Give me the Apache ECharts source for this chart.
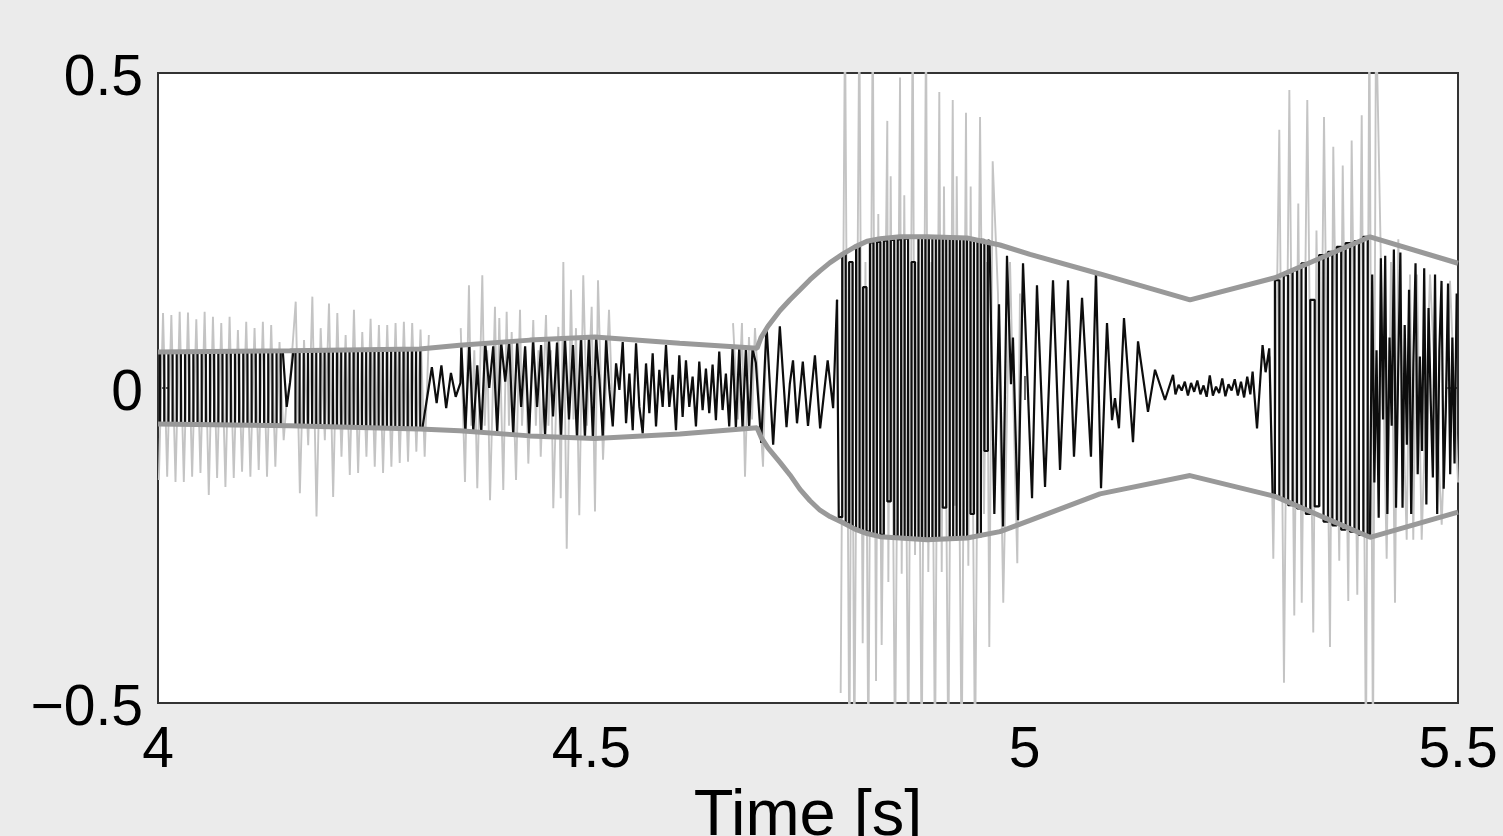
<!DOCTYPE html>
<html>
<head>
<meta charset="utf-8">
<script src="https://cdn.jsdelivr.net/npm/echarts@6/dist/echarts.min.js"></script>
<style>
html,body{margin:0;padding:0;background:#ebebeb;}
#chart{width:1503px;height:836px;}
</style>
</head>
<body>
<div id="chart"></div>
<script>
// ---------- tick labels ----------
const xTicks = [4, 4.5, 5, 5.5];
const yTicks = [-0.5, 0, 0.5];

// ---------- envelope (thick grey) ----------
const envTime  = [4.000, 4.152, 4.302, 4.348, 4.429, 4.504, 4.602, 4.6912, 4.6958, 4.7038, 4.7177, 4.7292, 4.7408, 4.7523, 4.7638, 4.7754, 4.7904, 4.8042, 4.8181, 4.8331, 4.8562, 4.8873, 4.9335, 4.9715, 5.0062, 5.0869, 5.1908, 5.2888, 5.3985, 5.5000];
const envUpper = [0.057, 0.059, 0.062, 0.068, 0.076, 0.081, 0.071, 0.063, 0.080, 0.098, 0.123, 0.140, 0.156, 0.172, 0.186, 0.199, 0.213, 0.224, 0.233, 0.237, 0.240, 0.240, 0.238, 0.227, 0.212, 0.181, 0.140, 0.175, 0.240, 0.198];
const envLower = [-0.057, -0.060, -0.065, -0.068, -0.076, -0.080, -0.073, -0.063, -0.078, -0.095, -0.118, -0.138, -0.161, -0.179, -0.194, -0.204, -0.214, -0.224, -0.231, -0.236, -0.238, -0.241, -0.238, -0.228, -0.210, -0.168, -0.139, -0.172, -0.237, -0.197];

// ---------- black signal: segments sampled on a regular step (start, step, values) ----------
const black1 = [0.057,-0.057,0.057,-0.057,0.057,-0.057,0.057,-0.058,0.057,-0.058,0.058,-0.058,0.058,-0.058,0.058,-0.058,0.058,-0.058,0.058,-0.059,0.058,-0.059,0.058,-0.059,0.058,-0.059,0.058,-0.059,0.059,-0.059,0.058];
const blackGlitch = [[4.1485,-0.030],[4.1523,0.008]];
const black2 = [0.059,-0.060,0.059,-0.060,0.060,-0.060,0.060,-0.061,0.060,-0.061,0.060,-0.061,0.060,-0.062,0.061,-0.062,0.061,-0.062,0.061,-0.063,0.061,-0.063,0.062,-0.063,0.062,-0.064,0.062,-0.064,0.062,-0.064,0.062,-0.064];
const black3 = [0.033,-0.024,0.036,-0.032,0.024,-0.014,0.008];
const black4 = [0.068,-0.069,0.069,-0.069,0.036,-0.070,0.071,0.000,0.066,-0.071,0.072,0.010,0.072,-0.073,0.073,-0.030,0.066,-0.074,0.074,-0.030,0.068,-0.076,0.076,-0.045,0.072,-0.077,0.078,-0.050,0.068,-0.078,0.079,-0.079,0.080,-0.080];
const black5 = [0.079,0.013,-0.077,0.076,-0.003,-0.061,0.039,-0.003,0.073,-0.056,
  0.023,-0.067,0.071,-0.030,-0.072,0.039,-0.040,0.055,-0.061,0.029,
  -0.030,0.068,-0.030,0.021,-0.067,0.052,-0.046,0.044,-0.030,0.018,
  -0.061,0.042,-0.035,0.031,-0.040,0.037,-0.051,0.058,-0.035,0.023,
  -0.061,0.063,-0.064,0.063,-0.064,0.062,-0.064,0.062,0.040];
const black6 = [[4.6960,-0.087],[4.7022,0.098],[4.7098,-0.090],[4.7175,0.098],[4.7252,-0.062],[4.7290,0.006],[4.7327,0.044],[4.7373,-0.056],[4.7440,0.042],[4.7500,-0.060],[4.7580,0.052],[4.7640,-0.064],[4.7727,0.044],[4.7790,-0.032]];
const black7 = [0.140,-0.205,0.213,-0.215,0.200,-0.222,0.225,-0.226,0.160,-0.228,0.231,-0.232,0.232,-0.233,0.234,-0.180,0.235,-0.236,0.236,-0.237,0.237,-0.238,0.200,-0.239,0.239,-0.240,0.240,-0.240,0.240,-0.241,0.240,-0.190,0.240,-0.240,0.239,-0.239,0.238,-0.238,0.237,-0.200,0.236,-0.236,0.235,-0.100,0.234];
const black8 = [[4.9650,-0.200],[4.9704,0.133],[4.9750,-0.220],[4.9796,0.210],[4.9842,0.006],[4.9865,0.080],[4.9923,-0.210],[4.9981,0.198],[5.0085,-0.175],[5.0142,0.163],[5.0235,-0.157],[5.0327,0.171],[5.0408,-0.130],[5.0500,0.171],[5.0569,-0.109],[5.0662,0.143],[5.0765,-0.109],[5.0823,0.184],[5.0881,-0.159],[5.0950,0.103],[5.1008,-0.051],[5.1042,-0.016],[5.1088,-0.064],[5.1146,0.111],[5.1250,-0.086],[5.1308,0.074],[5.1423,-0.038],[5.1504,0.029],[5.1619,-0.019],[5.1712,0.021]];
const black9 = [-0.010,0.005,-0.004,0.010,-0.012,0.008,-0.006,0.012,-0.010,0.004,-0.014,0.020,-0.012,0.002,-0.008,0.015,-0.013,0.006,-0.004,0.014,-0.012,0.010,-0.015,0.018,-0.010];
const black10 = [[5.2630,0.026],[5.2681,-0.064],[5.2745,0.068],[5.2780,0.025],[5.2822,0.063]];
const black11 = [-0.170,0.171,-0.175,0.179,-0.186,0.187,-0.191,0.198,-0.200,0.140,-0.188,0.211,-0.212,0.216,-0.218,0.224,-0.225,0.230,-0.228,0.233,-0.233,0.240,-0.233];
const black12 = [0.180,-0.150,0.060,-0.206,0.206,-0.050,0.210,-0.200,0.080,-0.060,0.220,-0.190,0.030,0.215,-0.190,0.100,-0.090,0.156,-0.200,0.040,0.198,-0.137,0.050,-0.100,0.190,-0.185,0.127,-0.020,-0.142,0.180,-0.200,0.060,0.170,-0.160,-0.030,0.166,-0.137,0.080,-0.120,0.150];

// ---------- light grey (unfiltered) signal ----------
const gray1a = [-0.146,0.119,-0.141,0.116,-0.149,0.121,-0.149,0.120,-0.141,0.109,-0.135,0.121,-0.170,0.113,-0.143,0.103,-0.157,0.113,-0.143,0.092,-0.133,0.105,-0.141,0.095,-0.130,0.105,-0.141,0.100,-0.125,0.073,-0.083];
const grayGlitch = [[4.1485,-0.020],[4.1523,0.010]];
const gray1b = [0.137,-0.167,0.076,-0.091,0.145,-0.204,0.095,-0.083,0.134,-0.173,0.119,-0.109,0.084,-0.138,0.124,-0.135,0.089,-0.109,0.110,-0.125,0.100,-0.135,0.100,-0.125,0.103,-0.119,0.105,-0.117,0.103,-0.101,0.093,-0.109,0.084];
const gray3 = [[4.3493,0.095],[4.3542,-0.149],[4.3588,0.163],[4.3615,-0.060],[4.3650,0.060],[4.3684,-0.159],[4.3742,0.179],[4.3770,-0.060],[4.3800,0.060],[4.3831,-0.178],[4.3888,0.129],[4.3912,-0.060],[4.3938,0.111],[4.3984,-0.162],[4.4023,0.121],[4.4050,-0.060],[4.4081,0.089],[4.4131,-0.146],[4.4177,0.124],[4.4200,-0.060],[4.4240,0.060],[4.4273,-0.120],[4.4330,0.108],[4.4360,-0.060],[4.4390,0.060],[4.4416,-0.109],[4.4477,0.116],[4.4505,-0.060],[4.4535,0.060],[4.4561,-0.191],[4.4619,0.097],[4.4647,-0.175],[4.4677,0.200],[4.4716,-0.255],[4.4765,0.156],[4.4794,-0.050],[4.4823,0.095],[4.4861,-0.202],[4.4907,0.179],[4.4950,-0.060],[4.5004,0.129],[4.5042,-0.196],[4.5077,0.171],[4.5135,-0.114],[4.5204,0.124],[4.5250,-0.060]];
const gray4 = [[4.6635,0.103],[4.6692,-0.050],[4.6738,0.103],[4.6773,-0.141],[4.6819,0.081],[4.6854,-0.050],[4.6888,0.095],[4.6981,-0.125],[4.7020,0.090]];
const gray5 = [[4.7877,-0.484],[4.7927,0.600],[4.7977,-0.600],[4.8008,0.200],[4.8034,-0.600],[4.8092,0.600],[4.8131,-0.405],[4.8163,0.200],[4.8196,-0.600],[4.8247,0.600],[4.8285,-0.465],[4.8311,0.276],[4.8350,-0.408],[4.8415,0.424],[4.8427,-0.308],[4.8454,0.336],[4.8504,-0.600],[4.8562,0.493],[4.8581,-0.295],[4.8611,0.306],[4.8657,-0.600],[4.8708,0.600],[4.8735,-0.265],[4.8769,0.200],[4.8812,-0.600],[4.8862,0.600],[4.8888,-0.292],[4.8925,0.200],[4.8965,-0.600],[4.9015,0.470],[4.9043,-0.292],[4.9069,0.320],[4.9119,-0.600],[4.9170,0.457],[4.9196,-0.187],[4.9216,0.336],[4.9273,-0.600],[4.9323,0.437],[4.9350,-0.282],[4.9377,0.320],[4.9427,-0.600],[4.9485,0.430],[4.9531,-0.200],[4.9565,0.200],[4.9592,-0.411],[4.9631,0.360],[4.9692,0.150],[4.9753,-0.341],[4.9831,0.200],[4.9915,-0.278],[4.9946,0.150]];
const gray6 = [[5.2830,0.050],[5.2869,-0.271],[5.2938,0.410],[5.2992,-0.468],[5.3054,0.473],[5.3111,-0.361],[5.3157,0.293],[5.3197,-0.341],[5.3261,0.457],[5.3330,-0.388],[5.3367,0.250],[5.3408,-0.188],[5.3454,0.430],[5.3523,-0.411],[5.3561,0.383],[5.3630,-0.274],[5.3670,0.353],[5.3734,-0.338],[5.3773,0.393],[5.3838,-0.328],[5.3889,0.433],[5.3938,-0.600],[5.3977,0.600],[5.4019,-0.600],[5.4054,0.600],[5.4177,-0.271],[5.4227,0.200],[5.4273,-0.341],[5.4311,0.236],[5.4408,-0.241],[5.4446,0.180],[5.4484,-0.241],[5.4527,0.180],[5.4581,-0.241],[5.4677,0.180],[5.4812,-0.217],[5.4908,0.170],[5.5000,-0.150]];

// ---------- assembly ----------
function onStep(t0, dt, vals){ return vals.map((v,i)=>[t0 + i*dt, v]); }

// clipped (square-topped) parts drawn as step lines, the rest as plain polylines
const blackParts = [
  {step:true,  data:onStep(4.000, 0.0048, black1)},
  {step:false, data:blackGlitch},
  {step:true,  data:onStep(4.1562, 0.0048, black2)},
  {step:false, data:[].concat(onStep(4.316, 0.0055, black3), onStep(4.350, 0.0046, black4), onStep(4.5055, 0.00384, black5), black6)},
  {step:true,  data:onStep(4.7835, 0.0040, black7)},
  {step:false, data:[].concat(black8, onStep(5.1740, 0.0036, black9), black10)},
  {step:true,  data:onStep(5.2862, 0.0051, black11)},
  {step:false, data:onStep(5.4010, 0.0025, black12)}
];
// join neighbouring parts so the trace is continuous
blackParts.forEach((p,i)=>{
  if(!p.step){
    const prev = blackParts[i-1], next = blackParts[i+1];
    const d = p.data.slice();
    if(prev) d.unshift(prev.data[prev.data.length-1]);
    if(next) d.push(next.data[0]);
    p.joined = d;
  } else p.joined = p.data;
});

const gray1 = [].concat(onStep(4.001, 0.0048, gray1a), grayGlitch, onStep(4.1589, 0.0048, gray1b));
const graySegments = [gray1, gray3, gray4, gray5, gray6];

const upperData = envTime.map((t,i)=>[t, envUpper[i]]);
const lowerData = envTime.map((t,i)=>[t, envLower[i]]);

const FONT = '"Liberation Sans", Arial, Helvetica, sans-serif';
const tickStyle = {show:true, inside:true, length:12, lineStyle:{color:'#333', width:1.5}};
const fmtY = v => '{v|' + (v < 0 ? '\u2212' + Math.abs(v) : String(v)) + '}';

const series = [];
graySegments.forEach(seg => series.push({
  type:'line', data:seg, symbol:'none', silent:true, z:1,
  lineStyle:{color:'#c4c4c4', width:1.9}, animation:false
}));
blackParts.forEach(p => series.push({
  type:'line', data:p.joined, symbol:'none', silent:true, z:2,
  step: p.step ? 'middle' : false,
  lineStyle:{color:'#0d0d0d', width:2.2}, animation:false
}));
series.push({type:'line', data:upperData, symbol:'none', silent:true, z:3,
  lineStyle:{color:'#999', width:5}, animation:false});
series.push({type:'line', data:lowerData, symbol:'none', silent:true, z:3,
  lineStyle:{color:'#999', width:5}, animation:false});

const chart = echarts.init(document.getElementById('chart'), null, {renderer:'canvas'});
chart.setOption({
  backgroundColor:'#ebebeb',
  animation:false,
  grid:{left:158, top:73, right:45, bottom:133, outerBoundsMode:'none', containLabel:false,
        show:true, backgroundColor:'#fff', borderColor:'#333', borderWidth:2},
  xAxis:[
    {type:'value', min:xTicks[0], max:xTicks[xTicks.length-1], interval:0.5, position:'bottom',
     axisLine:{show:false}, splitLine:{show:false}, axisTick:tickStyle,
     axisLabel:{color:'#000', fontSize:57, fontFamily:FONT, margin:20, formatter:v=>String(v)},
     name:'Time [s]', nameLocation:'middle', nameGap:76,
     nameTextStyle:{color:'#000', fontSize:65, fontFamily:FONT}},
    {type:'value', min:xTicks[0], max:xTicks[xTicks.length-1], interval:0.5, position:'top',
     axisLine:{show:false}, splitLine:{show:false}, axisTick:tickStyle, axisLabel:{show:false}}
  ],
  yAxis:[
    {type:'value', min:yTicks[0], max:yTicks[yTicks.length-1], interval:0.5, position:'left',
     axisLine:{show:false}, splitLine:{show:false}, axisTick:tickStyle,
     axisLabel:{color:'#000', fontSize:57, fontFamily:FONT, margin:15, formatter:fmtY,
       rich:{v:{color:'#000', fontSize:57, fontFamily:FONT, padding:[12,0,0,0]}}}},
    {type:'value', min:yTicks[0], max:yTicks[yTicks.length-1], interval:0.5, position:'right',
     axisLine:{show:false}, splitLine:{show:false}, axisTick:tickStyle, axisLabel:{show:false}}
  ],
  series: series
});
</script>
</body>
</html>
